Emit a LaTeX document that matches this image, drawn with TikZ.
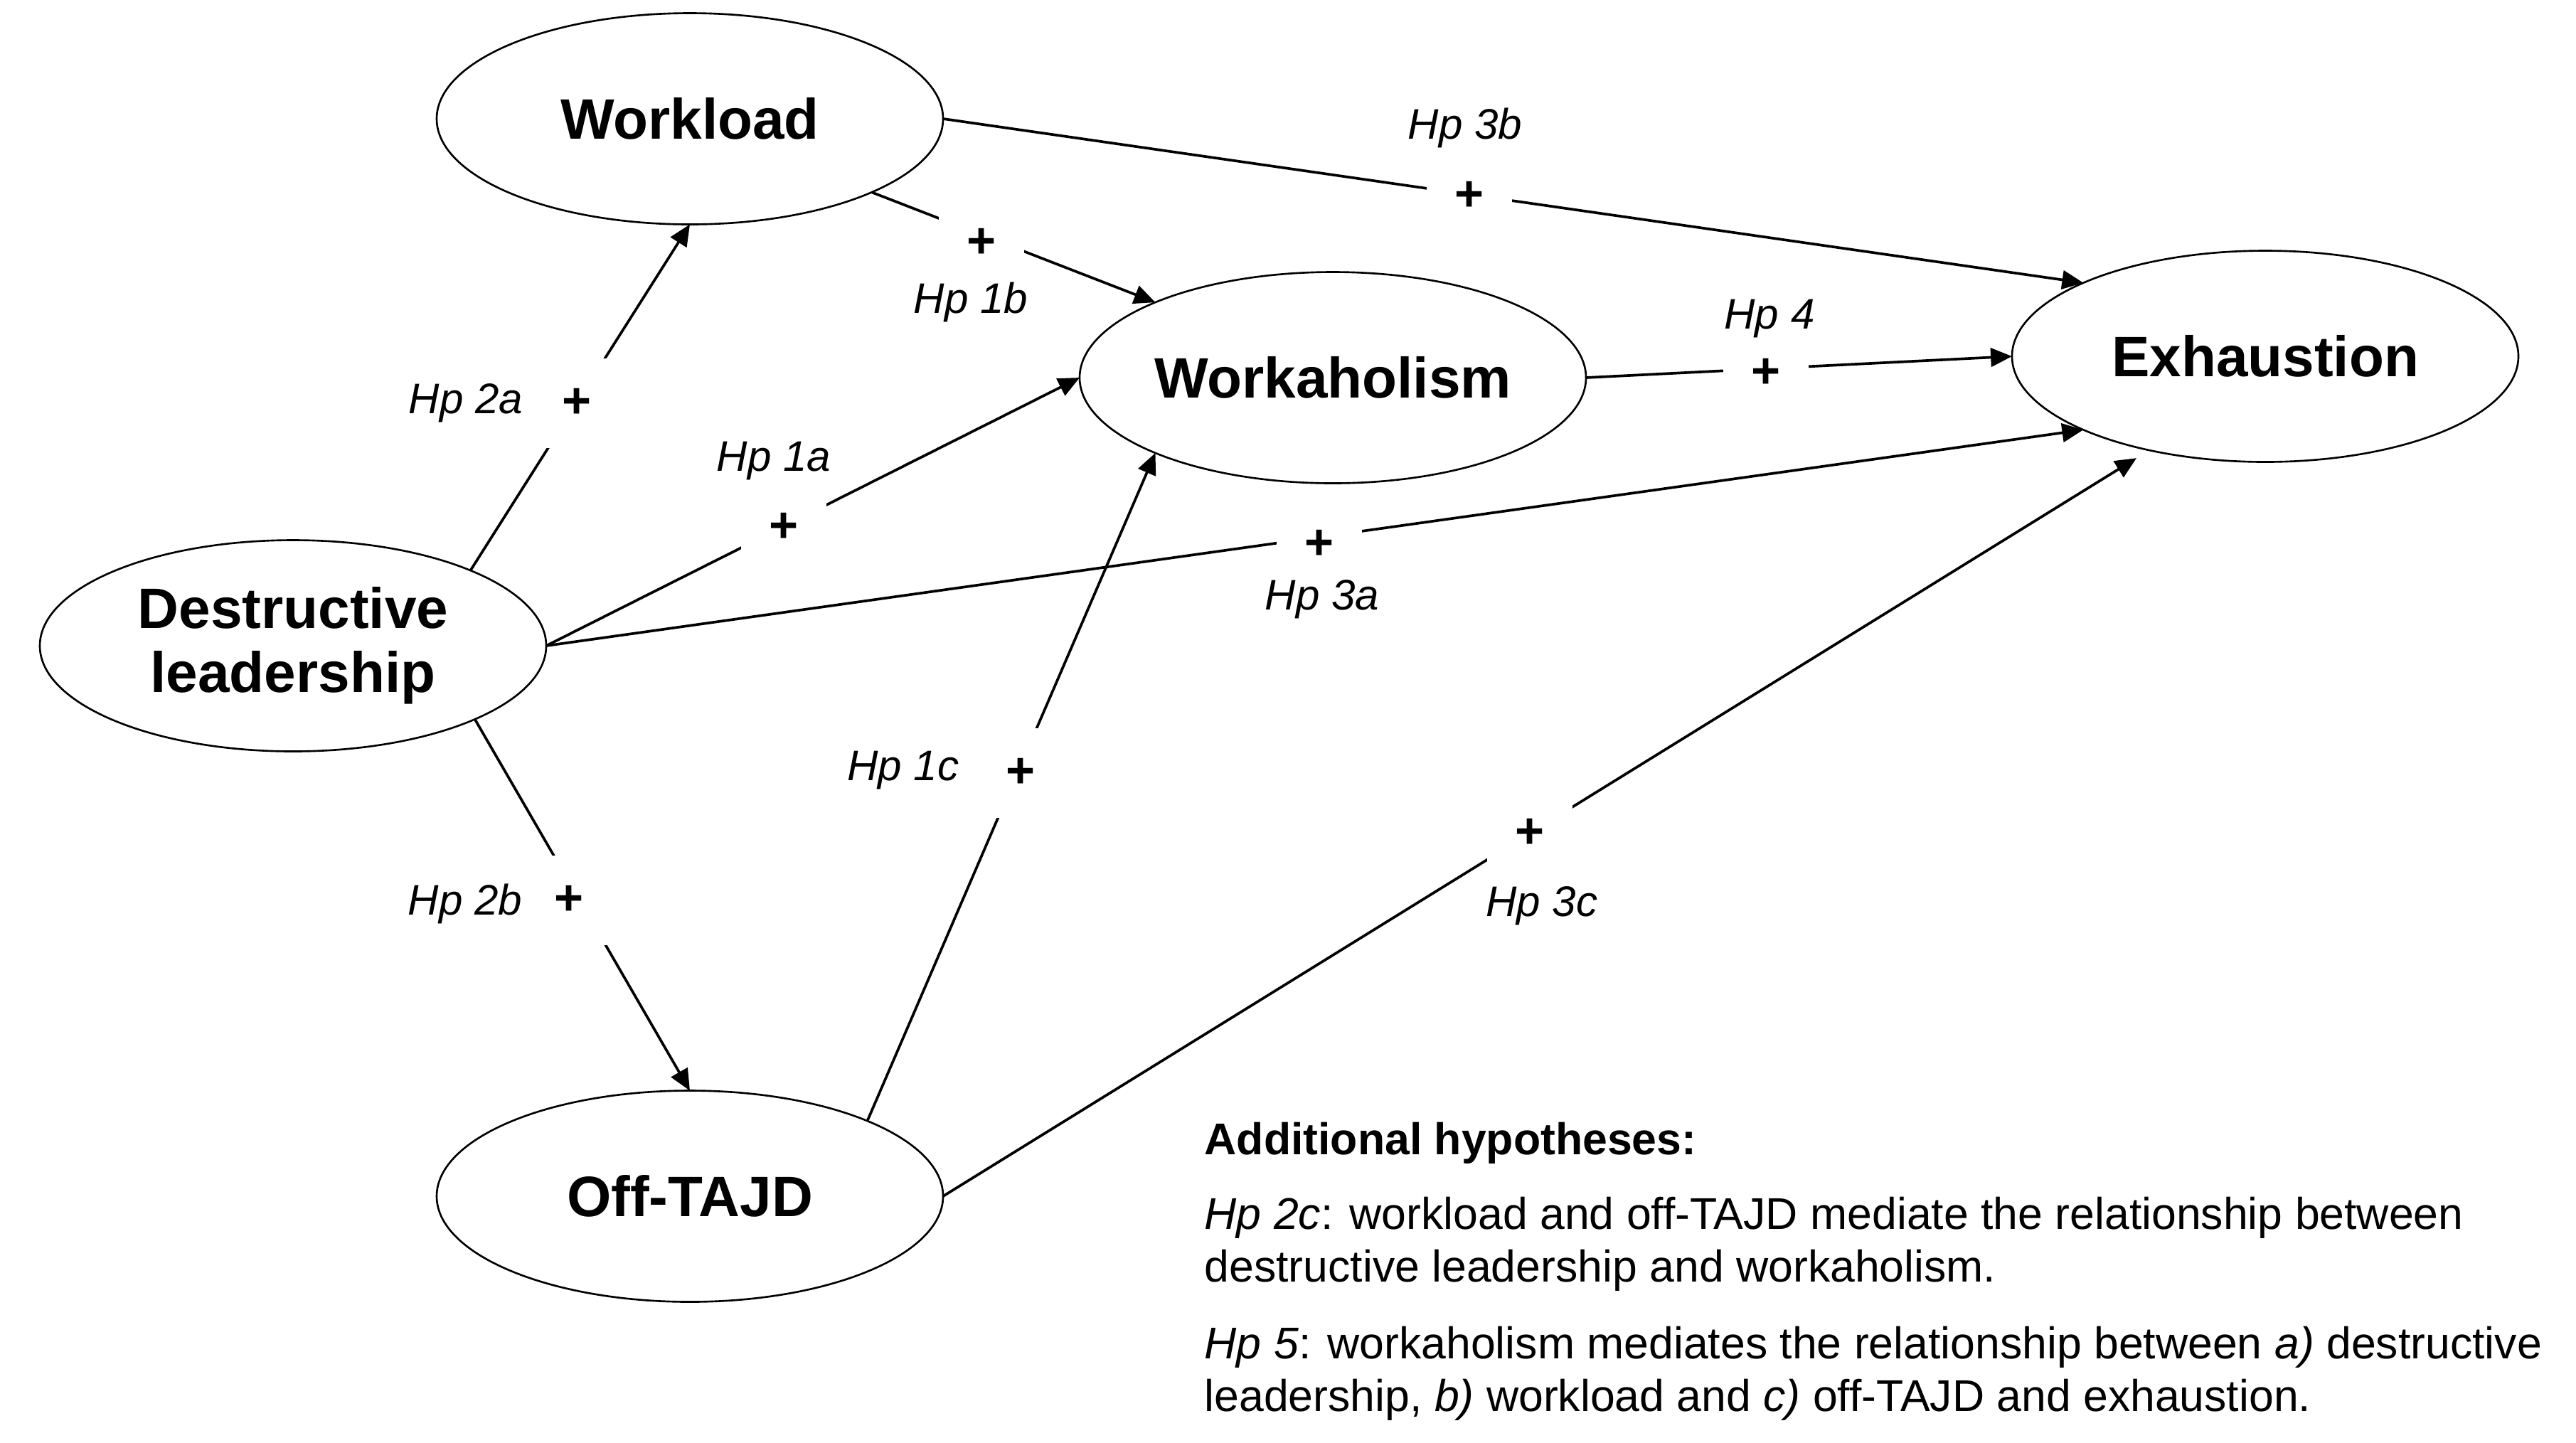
\documentclass[tikz,border=0pt]{standalone}
\usepackage{fontspec}
\setmainfont{Liberation Sans}
\usetikzlibrary{arrows.meta,shapes.geometric}
\pgfdeclarelayer{edgelayer}
\pgfdeclarelayer{nodelayer}
\pgfsetlayers{edgelayer,nodelayer,main}
\tikzset{font=\fontsize{17.8}{21}\selectfont}
\tikzstyle{none}=[inner sep=0pt]
\tikzstyle{latent}=[ellipse,draw,line width=0.75pt,minimum width=7.12cm,minimum height=2.97cm,inner sep=0pt,outer sep=0pt,align=center,font=\fontsize{22.8}{25.6}\selectfont\bfseries]
\tikzstyle{hp}=[inner sep=0pt,font=\fontsize{17.1}{20}\selectfont\itshape]
\tikzstyle{sign}=[fill=white,minimum width=1.2cm,minimum height=1.26cm,inner sep=0pt,font=\fontsize{20}{20}\selectfont\bfseries]
\tikzstyle{hyp}=[line width=1.05pt,-{Triangle[length=8.5pt,width=7.5pt]}]
\tikzstyle{note}=[inner sep=0pt,anchor=base west]

\begin{document}
\begin{tikzpicture}
	\useasboundingbox (0, 0) rectangle (36.22, -20.28);
	\begin{pgfonlayer}{nodelayer}
		\node [style=latent] (0) at (4.12, -9.08) {Destructive\\leadership};
		\node [style=latent] (1) at (9.7, -1.67) {Workload};
		\node [style=latent] (2) at (18.74, -5.31) {Workaholism};
		\node [style=latent] (3) at (31.85, -5.01) {Exhaustion};
		\node [style=latent] (4) at (9.7, -16.82) {Off-TAJD};
		\node [style=sign] (5) at (8.11, -5.67) {+};
		\node [style=sign] (6) at (13.8, -3.42) {+};
		\node [style=sign] (7) at (20.66, -2.76) {+};
		\node [style=sign] (8) at (11.02, -7.42) {+};
		\node [style=sign] (9) at (18.55, -7.66) {+};
		\node [style=sign] (10) at (14.35, -10.87) {+};
		\node [style=sign] (11) at (8, -12.66) {+};
		\node [style=sign] (12) at (21.51, -11.72) {+};
		\node [style=sign] (13) at (24.83, -5.25) {+};
		\node [style=hp] (14) at (6.55, -5.67) {Hp 2a};
		\node [style=hp] (15) at (13.65, -4.25) {Hp 1b};
		\node [style=hp] (16) at (20.6, -1.8) {Hp 3b};
		\node [style=hp] (17) at (10.88, -6.48) {Hp 1a};
		\node [style=hp] (18) at (18.59, -8.43) {Hp 3a};
		\node [style=hp] (19) at (12.7, -10.83) {Hp 1c};
		\node [style=hp] (20) at (6.54, -12.71) {Hp 2b};
		\node [style=hp] (21) at (21.68, -12.74) {Hp 3c};
		\node [style=hp] (22) at (24.88, -4.48) {Hp 4};
		\node [style=note] (23) at (16.93, -16.23) {\textbf{Additional hypotheses:}};
		\node [style=note] (24) at (16.93, -17.28) {\textit{Hp 2c}: workload and off-TAJD mediate the relationship between};
		\node [style=note] (25) at (16.93, -18.02) {destructive leadership and workaholism.};
		\node [style=note] (26) at (16.93, -19.1) {\textit{Hp 5}: workaholism mediates the relationship between \textit{a)} destructive};
		\node [style=note] (27) at (16.93, -19.84) {leadership, \textit{b)} workload and \textit{c)} off-TAJD and exhaustion.};
	\end{pgfonlayer}
	\begin{pgfonlayer}{edgelayer}
		\draw [style=hyp] (0.23) to (1.south);
		\draw [style=hyp] (1.-22.3) to (2.157.5);
		\draw [style=hyp] (1.east) to (3.158.5);
		\draw [style=hyp] (0.east) to (2.west);
		\draw [style=hyp] (0.east) to (3.202.6);
		\draw [style=hyp] (4.23.1) to (2.203.2);
		\draw [style=hyp] (0.-22.9) to (4.north);
		\draw [style=hyp, shorten >=6pt] (4.east) to (3.219.4);
		\draw [style=hyp] (2.east) to (3.west);
	\end{pgfonlayer}
\end{tikzpicture}
\end{document}
